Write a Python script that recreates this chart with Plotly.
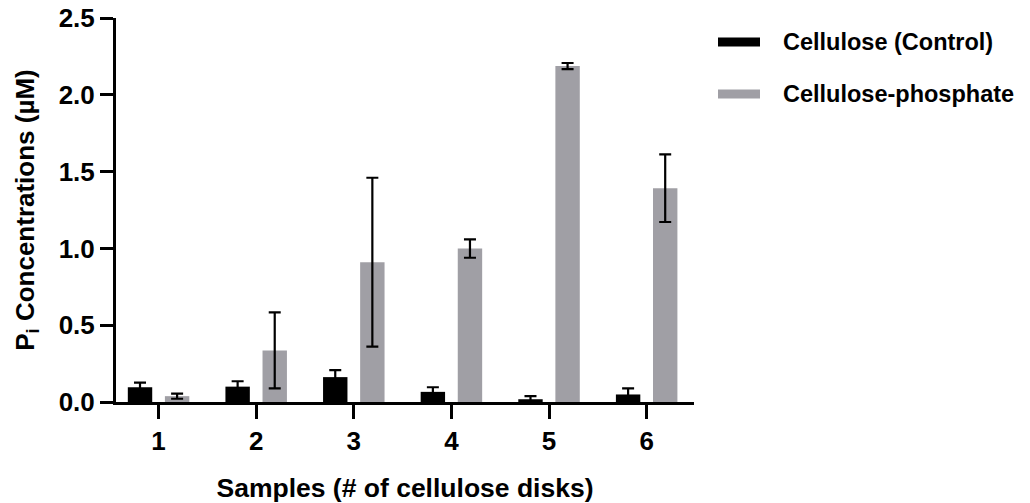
import plotly.graph_objects as go

samples = [1, 2, 3, 4, 5, 6]
control_vals = [0.096, 0.100, 0.162, 0.066, 0.018, 0.049]
control_err = [0.030, 0.035, 0.045, 0.030, 0.020, 0.040]
phos_vals = [0.038, 0.336, 0.910, 0.999, 2.187, 1.392]
phos_err = [0.017, 0.247, 0.550, 0.060, 0.020, 0.220]
series_names = ["Cellulose (Control)", "Cellulose-phosphate"]
series_colors = ["#000000", "#a09fa5"]
y_ticks = [0.0, 0.5, 1.0, 1.5, 2.0, 2.5]

W, H = 1030, 503
ML, MR, MT, MB = 116, 336, 18, 101

FONT = "Arial, 'Liberation Sans', Helvetica, sans-serif"

fig = go.Figure()
for name, vals, errs, col in [
    (series_names[0], control_vals, control_err, series_colors[0]),
    (series_names[1], phos_vals, phos_err, series_colors[1]),
]:
    fig.add_trace(go.Bar(
        x=samples, y=vals, name=name, marker=dict(color=col, line=dict(width=0)),
        error_y=dict(type="data", array=errs, color="#000000", thickness=2.2, width=6),
        showlegend=False,
    ))

# manual legend (wide rectangle symbols as in reference)
pw = W - ML - MR
ph = H - MT - MB
def px(xp):
    return (xp - ML) / pw
def py(yp):
    return (H - MB - yp) / ph

leg_y = [42, 94]
for name, col, yc in zip(series_names, series_colors, leg_y):
    fig.add_shape(type="rect", xref="paper", yref="paper",
                  x0=px(718), x1=px(760), y0=py(yc + 4.5), y1=py(yc - 4.5),
                  fillcolor=col, line=dict(width=0))
    fig.add_annotation(xref="paper", yref="paper", x=px(781), y=py(yc),
                       text=name, showarrow=False, xanchor="left", yanchor="middle",
                       font=dict(family=FONT, size=23.5, color="#000000", weight="bold"))

fig.update_layout(
    width=W, height=H,
    margin=dict(l=ML, r=MR, t=MT, b=MB, autoexpand=False),
    paper_bgcolor="white", plot_bgcolor="white",
    barmode="group", bargap=0.24, bargroupgap=0.342,
    font=dict(family=FONT, color="#000000"),
)
fig.update_xaxes(
    automargin=False,
    range=[0.564, 6.485], tickmode="array", tickvals=samples,
    ticktext=[str(s) for s in samples],
    showline=True, linecolor="#000000", linewidth=3,
    ticks="outside", ticklen=14, tickwidth=3, tickcolor="#000000",
    showgrid=False, zeroline=False,
    tickfont=dict(family=FONT, size=26, color="#000000", weight="bold"),
    title=dict(text="Samples (# of cellulose disks)", standoff=26,
               font=dict(family=FONT, size=26.5, color="#000000", weight="bold")),
)
fig.update_yaxes(
    automargin=False,
    range=[0, 2.5], tickmode="array", tickvals=y_ticks,
    ticktext=[f"{v:.1f}" for v in y_ticks],
    showline=True, linecolor="#000000", linewidth=3,
    ticks="outside", ticklen=13, tickwidth=3, tickcolor="#000000",
    showgrid=False, zeroline=False,
    tickfont=dict(family=FONT, size=26, color="#000000", weight="bold"),
    title=dict(text="P<sub>i</sub> Concentrations (µM)", standoff=17,
               font=dict(family=FONT, size=26, color="#000000", weight="bold")),
)

fig.write_html("out.html")
